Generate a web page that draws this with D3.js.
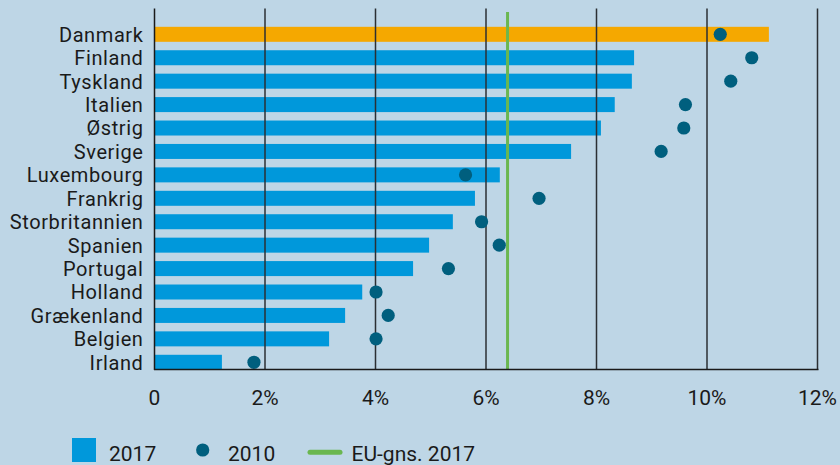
<!DOCTYPE html>
<html><head><meta charset="utf-8">
<script src="https://cdn.jsdelivr.net/npm/d3@7"></script>
<style>
html,body{margin:0;padding:0;background:#bed6e6;}
svg{display:block;}
text{fill:#1a1a1a;}
.cat{font-family:Roboto,sans-serif;letter-spacing:0.6px;}
.tk{font-family:Roboto,sans-serif;}
</style></head><body>
<svg id="c" width="840" height="465"></svg>
<script>
const countries = ["Danmark","Finland","Tyskland","Italien","Østrig","Sverige","Luxembourg","Frankrig","Storbritannien","Spanien","Portugal","Holland","Grækenland","Belgien","Irland"];
const values2017 = [11.12,8.68,8.64,8.33,8.08,7.54,6.25,5.80,5.40,4.97,4.68,3.76,3.45,3.16,1.22];
const values2010 = [10.24,10.81,10.43,9.61,9.58,9.17,5.63,6.96,5.92,6.24,5.32,4.01,4.23,4.01,1.80];
const euAverage2017 = 6.39;
const xTicks = [0,2,4,6,8,10,12];
const tickLabels = ["0","2%","4%","6%","8%","10%","12%"];
const legendLabels = ["2017","2010","EU-gns. 2017"];
const highlight = "Danmark";

const svg = d3.select("#c");
const x = d3.scaleLinear().domain([0,12]).range([154.5,817.5]);
const y = d3.scaleBand().domain(countries).range([22.6,374.0]).paddingInner(0.36).paddingOuter(0.18);
const plotTop = 8.5, plotBottom = 369.5;

// bars
svg.append("g").selectAll("rect").data(countries).join("rect")
  .attr("x",x(0)).attr("y",d=>y(d)).attr("height",y.bandwidth())
  .attr("width",(d,i)=>x(values2017[i])-x(0))
  .attr("fill",d=>d===highlight?"#f5a800":"#0098db");

// grid lines (drawn over bars)
svg.append("g").selectAll("line").data(xTicks.filter(d=>d>0)).join("line")
  .attr("x1",d=>x(d)).attr("x2",d=>x(d)).attr("y1",plotTop).attr("y2",plotBottom)
  .attr("stroke","#2b2f33").attr("stroke-width",1.5);

// EU line
svg.append("line").attr("x1",x(euAverage2017)).attr("x2",x(euAverage2017))
  .attr("y1",12).attr("y2",plotBottom).attr("stroke","#6ab750").attr("stroke-width",3);

// dots
svg.append("g").selectAll("circle").data(countries).join("circle")
  .attr("cx",(d,i)=>x(values2010[i])).attr("cy",d=>y(d)+y.bandwidth()/2).attr("r",6.6)
  .attr("fill","#005f7e");

// axes lines
svg.append("line").attr("x1",154.5).attr("x2",154.5).attr("y1",plotTop).attr("y2",plotBottom+0.5)
  .attr("stroke","#1a1a1a").attr("stroke-width",1.5);
svg.append("line").attr("x1",154).attr("x2",818.5).attr("y1",plotBottom).attr("y2",plotBottom)
  .attr("stroke","#1a1a1a").attr("stroke-width",1.5);

// y labels
svg.append("g").selectAll("text").data(countries).join("text")
  .attr("class","cat")
  .attr("x",143.5).attr("y",d=>y(d)+y.bandwidth()/2).attr("dy","0.37em")
  .attr("text-anchor","end").attr("font-size",20).text(d=>d);

// x tick labels
svg.append("g").selectAll("text").data(xTicks).join("text")
  .attr("class","tk")
  .attr("x",d=>x(d)).attr("y",405).attr("text-anchor","middle").attr("font-size",21)
  .text((d,i)=>tickLabels[i]);

// legend
const lg = svg.append("g").attr("class","tk");
lg.append("rect").attr("x",72).attr("y",438).attr("width",24).attr("height",24).attr("fill","#0098db");
lg.append("text").attr("x",109).attr("y",461).attr("font-size",21).text(legendLabels[0]);
lg.append("circle").attr("cx",202.7).attr("cy",450).attr("r",6.6).attr("fill","#005f7e");
lg.append("text").attr("x",228).attr("y",461).attr("font-size",21).text(legendLabels[1]);
lg.append("line").attr("x1",310).attr("x2",340).attr("y1",452.3).attr("y2",452.3)
  .attr("stroke","#6ab750").attr("stroke-width",5).attr("stroke-linecap","round");
lg.append("text").attr("x",351.5).attr("y",461).attr("font-size",21).text(legendLabels[2]);
</script>
</body></html>
